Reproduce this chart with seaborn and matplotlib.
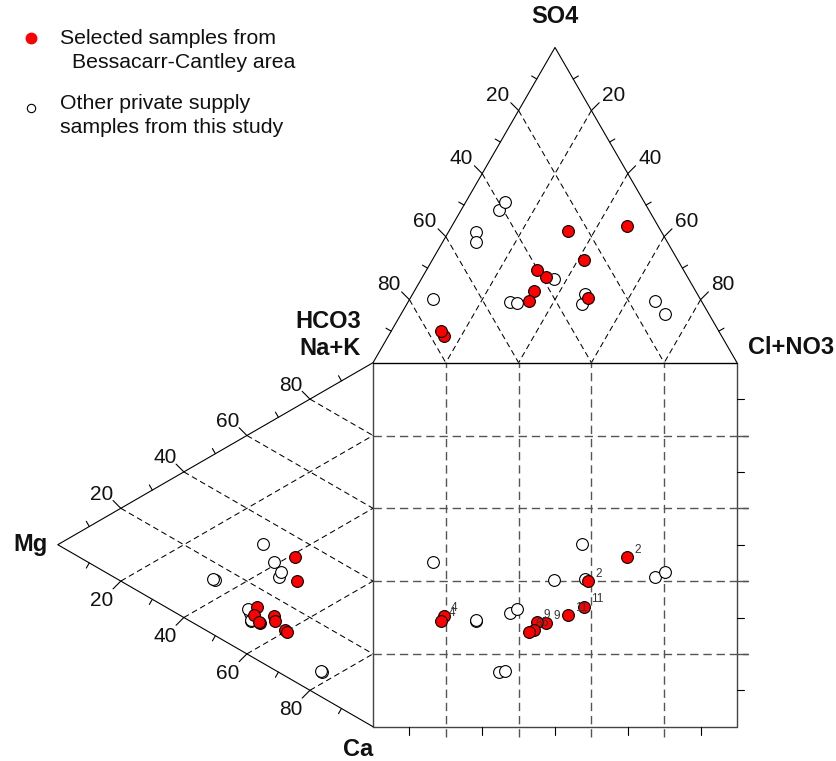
import numpy as np
import pandas as pd
import matplotlib
matplotlib.use("Agg")
import matplotlib.pyplot as plt
import seaborn as sns

# ---- sample compositions (meq %) ----
# Selected samples, Bessacarr-Cantley area
sel_so4 = [43.3, 20.5, 32.5, 41.8, 27.1, 29.3, 22.8, 19.7, 8.6, 10.1]
sel_cl = [48.2, 48.8, 41.6, 32.7, 34.1, 30.3, 32.9, 32.9, 15.1, 13.7]
sel_mg = [24.7, 24.2, 36.9, 37.8, 36.0, 36.2, 27.9, 27.4, 31.4, 31.1]
sel_na = [34.2, 27.9, 14.5, 11.7, 10.4, 10.6, 12.6, 12.4, 14.8, 13.6]
sel_id = ["2", "2", "11", "11", "9", "9", "5", "6", "4", "4"]

# Other private supply samples
oth_so4 = [20.3, 18.5, 26.7, 21.7, 19.7, 15.5, 19.2, 18.8, 41.6, 38.2, 48.4, 50.9]
oth_cl = [6.3, 48.3, 36.5, 47.3, 67.5, 72.6, 27.9, 30.2, 7.5, 9.1, 10.5, 10.7]
oth_mg = [31.4, 34.9, 50.1, 50.9, 29.7, 29.2, 39.0, 39.6, 38.8, 38.6, 16.2, 16.5]
oth_na = [29.5, 32.7, 15.2, 15.2, 26.4, 28.0, 11.8, 12.5, 9.7, 9.9, 6.8, 7.1]

grid_vals = [20, 40, 60, 80]
tick_vals = [10, 20, 30, 40, 50, 60, 70, 80, 90]

sns.set_theme(style="white")
plt.rcParams["font.family"] = ["Liberation Sans", "DejaVu Sans"]

R3 = np.sqrt(3) / 2
PX = 3.64  # pixels per percent unit


def top_xy(s, c):
    return c + s / 2.0, 100.0 + s * R3


def left_xy(mg, na):
    return -mg * R3, na + mg / 2.0


def pos(xp, yp):
    return (xp - 373) / PX, (726.7 - yp) / PX


def build(so4, cl, mg, na, group):
    so4, cl, mg, na = map(np.asarray, (so4, cl, mg, na))
    tx, ty = top_xy(so4, cl)
    lx, ly = left_xy(mg, na)
    sx, sy = cl + so4 / 2.0, na + mg / 2.0
    return pd.DataFrame({
        "x": np.concatenate([tx, lx, sx]),
        "y": np.concatenate([ty, ly, sy]),
        "group": group,
    })


df_oth = build(oth_so4, oth_cl, oth_mg, oth_na, "other")
df_sel = build(sel_so4, sel_cl, sel_mg, sel_na, "selected")

fig = plt.figure(figsize=(8.36, 7.61), dpi=100)
ax = fig.add_axes([0, 0, 1, 1])
ax.set_xlim(-373 / PX, (836 - 373) / PX)
ax.set_ylim((726.7 - 761) / PX, 726.7 / PX)
ax.set_aspect("equal")
ax.axis("off")

# ---- outlines ----
apex_top = top_xy(100, 0)
ax.plot([0, apex_top[0], 100], [100, apex_top[1], 100], color="black", lw=0.8, zorder=3)
apex_left = left_xy(100, 0)
ax.plot([0, apex_left[0], 0], [0, apex_left[1], 100], color="black", lw=0.8, zorder=3)
ax.plot([0, 100], [100, 100], color="black", lw=0.8, zorder=3)
ax.plot([0, 100, 100, 0, 0], [0, 0, 100, 100, 0], color="#444444", lw=1.0, zorder=2)

# ---- dashed grids ----
tri_kw = dict(color="black", lw=0.75, dashes=(5.5, 3.5), zorder=1)
sq_kw = dict(color="#555555", lw=1.0, dashes=(6, 3.5), zorder=1)
for k in grid_vals:
    x0, y0 = top_xy(100 - k, 0)
    ax.plot([x0, 100 - k], [y0, 100], **tri_kw)
    x0, y0 = top_xy(100 - k, k)
    ax.plot([x0, k], [y0, 100], **tri_kw)
    x0, y0 = left_xy(100 - k, k)
    ax.plot([x0, 0], [y0, k], **tri_kw)
    x0, y0 = left_xy(100 - k, 0)
    ax.plot([x0, 0], [y0, 100 - k], **tri_kw)
    ax.plot([k, k], [-10 / PX, 100], **sq_kw)
    ax.plot([0, 100 + 11 / PX], [k, k], **sq_kw)

# ---- edge ticks and labels ----
def unit(v):
    v = np.asarray(v, float)
    return v / np.hypot(*v)


edges = [
    # point function, minor direction, major direction, label offset (px)
    (lambda k: top_xy(100 - k, 0), unit((-R3, 0.5)), unit((-1, 1)), (-21, 15)),
    (lambda k: top_xy(100 - k, k), unit((R3, 0.5)), unit((1, 1)), (22, 15)),
    (lambda k: left_xy(100 - k, k), unit((-0.5, R3)), unit((-1, 1)), (-19, 14)),
    (lambda k: left_xy(100 - k, 0), unit((-0.5, -R3)), unit((-1, -1)), (-19, -19.5)),
]
for fpt, dmin, dmaj, off in edges:
    for k in tick_vals:
        px_, py_ = fpt(k)
        if k in grid_vals:
            d, ln = dmaj, 11 / PX
        else:
            d, ln = dmin, 6 / PX
        ax.plot([px_, px_ + d[0] * ln], [py_, py_ + d[1] * ln], color="black", lw=0.8, zorder=3)
        if k in grid_vals:
            ax.text(px_ + off[0] / PX, py_ + off[1] / PX, str(k), fontsize=15,
                    ha="center", va="center", color="#111111")

for k in tick_vals:
    if k in grid_vals:
        ax.plot([100, 100 + 11 / PX], [k, k], color="#555555", lw=1.0, zorder=3)
    else:
        ax.plot([100, 100 + 7 / PX], [k, k], color="black", lw=0.8, zorder=3)
        ax.plot([k, k], [0, -8 / PX], color="black", lw=0.8, zorder=3)

# ---- samples ----
sns.scatterplot(data=df_oth, x="x", y="y", ax=ax, color="white", edgecolor="black",
                linewidth=0.8, s=72, legend=False, zorder=4)
sns.scatterplot(data=df_sel, x="x", y="y", ax=ax, color="red", edgecolor="black",
                linewidth=0.8, s=72, legend=False, zorder=5)

# sample numbers beside the square points
n = len(sel_id)
sq = df_sel.iloc[2 * n:]
for (xv, yv), lab in zip(sq[["x", "y"]].to_numpy(), sel_id):
    ax.text(xv + 7 / PX, yv + 7.5 / PX, lab, fontsize=8.5, color="#333333",
            ha="left", va="center", zorder=6)

# ---- corner labels ----
bold = dict(fontsize=17, fontweight="bold", color="#111111", va="center")
ax.text(*pos(555, 17), "SO4", ha="center", **bold)
ax.text(*pos(361, 322), "HCO3", ha="right", **bold)
ax.text(*pos(361, 349), "Na+K", ha="right", **bold)
ax.text(*pos(748, 348), "Cl+NO3", ha="left", **bold)
ax.text(*pos(13, 545), "Mg", ha="left", **bold)
ax.text(*pos(373, 749), "Ca", ha="right", **bold)

# ---- legend ----
ax.plot(*pos(30.5, 38.5), marker="o", ms=7.5, mfc="red", mec="red", ls="none")
ax.plot(*pos(30.5, 108), marker="o", ms=6, mfc="white", mec="black", mew=0.8, ls="none")
leg = dict(fontsize=15.3, color="#111111", ha="left", va="center")
ax.text(*pos(60, 38.5), "Selected samples from", **leg)
ax.text(*pos(72.5, 62.5), "Bessacarr-Cantley area", **leg)
ax.text(*pos(60, 103.5), "Other private supply", **leg)
ax.text(*pos(60, 128), "samples from this study", **leg)

fig.savefig("out.png", dpi=100, facecolor="white")
